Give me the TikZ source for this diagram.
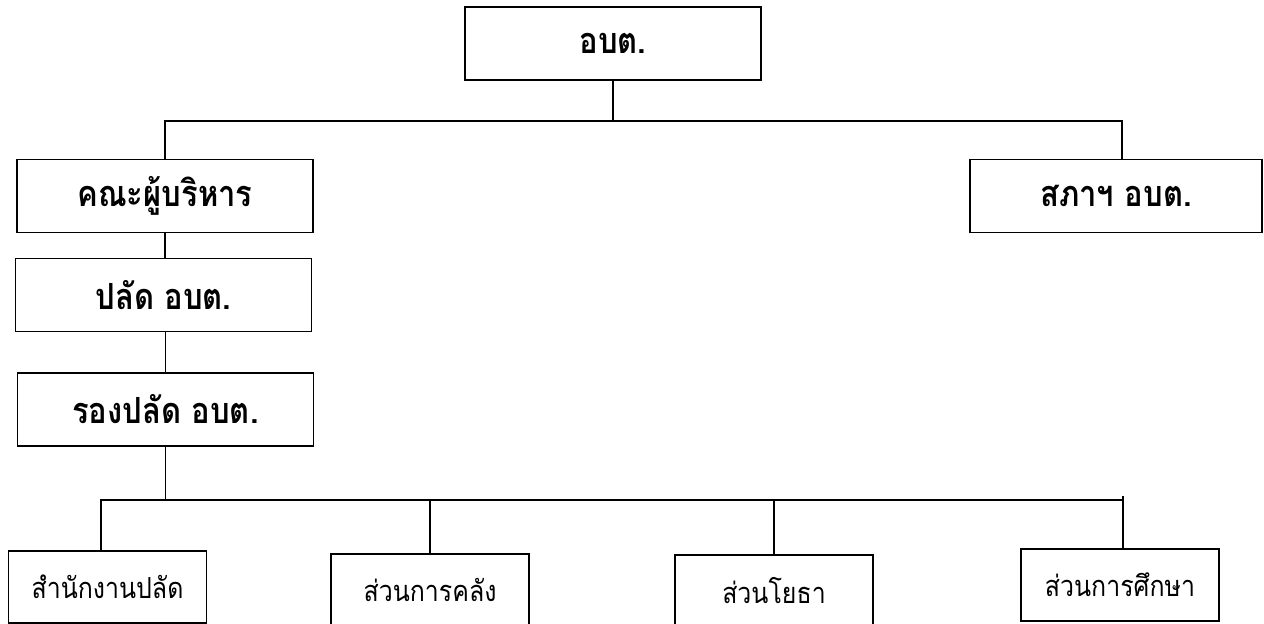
\documentclass[tikz,border=0pt]{standalone}
\usepackage{fontspec}
\newfontfamily\thaifont[Script=Thai, FakeStretch=0.86]{Loma}
\usetikzlibrary{positioning}

\tikzset{
	orgbox/.style={draw, line width=1.1pt, inner sep=0pt, font=\thaifont\bfseries\fontsize{20.5}{24}\selectfont,
		minimum width=5.92cm, minimum height=1.46cm},
	unitbox/.style={draw, line width=1.1pt, inner sep=0pt, font=\thaifont\fontsize{16.5}{19}\selectfont,
		minimum width=3.96cm, minimum height=1.44cm},
	link/.style={line width=1.1pt}
}

\begin{document}
\begin{tikzpicture}[x=0.02cm,y=-0.02cm]
					\useasboundingbox (0,0) rectangle (1264,624);
					\clip (0,0) rectangle (1264,624);

					\def\toprow{121}
					\def\unitrow{500}

					\node[orgbox] (obt) at (613,43.5) {อบต.};
					\node[orgbox] (exec) at (165,196) {คณะผู้บริหาร};
					\node[orgbox, minimum width=5.84cm] (council) at (1116,196) {สภาฯ อบต.};
					\node[orgbox] (clerk) at (163.5,295) {ปลัด อบต.};
					\node[orgbox] (deputy) at (165.5,409.5) {รองปลัด อบต.};

					\foreach \name/\x/\y/\txt in {office/107.5/587/สำนักงานปลัด, finance/430/590/ส่วนการคลัง, works/774/591/ส่วนโยธา, edu/1120/585/ส่วนการศึกษา}
					{
						\node[unitbox] (\name) at (\x,\y) {\txt};
					}

					\coordinate (topjoin) at (613,\toprow);
					\coordinate (unitjoin) at (165.5,\unitrow);
					\coordinate (eduend) at (1123,496);

					\draw[link] (obt.south)--(topjoin);
					\draw[link] (exec.north) |- (topjoin) -| ([xshift=0.12cm]council.north);
					\draw[link] (exec.south)--(exec.south |- clerk.north);
					\draw[link] (deputy.north |- clerk.south)--(deputy.north);
					\draw[link] (deputy.south)--(unitjoin);
					\draw[link] ([xshift=-0.13cm]office.north) |- (unitjoin) -| (eduend |- edu.north);
					\draw[link] (eduend |- unitjoin)--(eduend);
					\foreach \name in {finance,works}
					{
						\draw[link] (\name.north)--(\name.north |- unitjoin);
					}
				\end{tikzpicture}
\end{document}
